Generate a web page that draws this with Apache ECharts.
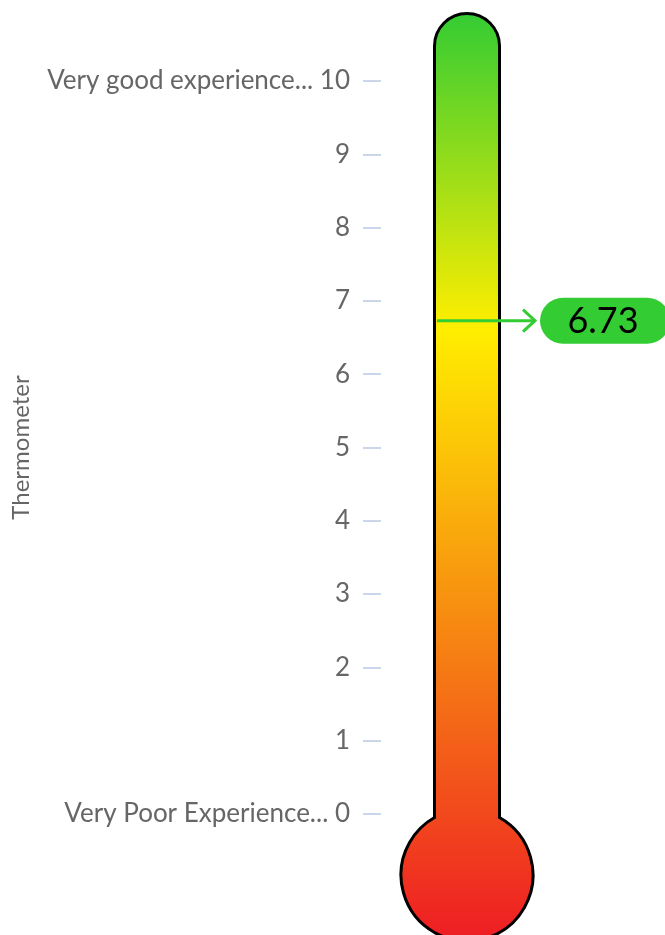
<!DOCTYPE html>
<html>
<head>
<meta charset="utf-8">
<script src="https://cdn.jsdelivr.net/npm/echarts@6/dist/echarts.min.js"></script>
<style>
  html, body { margin: 0; padding: 0; background: #ffffff; }
  #chart { width: 665px; height: 935px; }
</style>
</head>
<body>
<div id="chart"></div>
<script>
// Scale and reading shown on the thermometer
const categories = ['Thermometer'];
const readings = [6.73];
const tickValues = [0, 1, 2, 3, 4, 5, 6, 7, 8, 9, 10];
const tickLabels = ['Very Poor Experience... 0', '1', '2', '3', '4', '5', '6', '7', '8', '9', 'Very good experience... 10'];
const scaleMin = 0;
const scaleMax = 10;

const chart = echarts.init(document.getElementById('chart'));

function renderThermometer(params, api) {
  const value = api.value(1);
  const base = api.coord([api.value(0), scaleMin]);
  const topPt = api.coord([api.value(0), scaleMax]);
  const valPt = api.coord([api.value(0), value]);
  const cx = base[0];

  // tube and bulb outline
  const hw = 32.5;
  const R = 66;
  const topArcY = topPt[1] - 35;
  const bulbCy = base[1] + 61;
  const dy = Math.sqrt(R * R - hw * hw);
  const jy = bulbCy - dy;
  const path =
    'M' + (cx - hw) + ' ' + jy +
    ' L' + (cx - hw) + ' ' + topArcY +
    ' A' + hw + ' ' + hw + ' 0 0 1 ' + (cx + hw) + ' ' + topArcY +
    ' L' + (cx + hw) + ' ' + jy +
    ' A' + R + ' ' + R + ' 0 1 1 ' + (cx - hw) + ' ' + jy + ' Z';

  const yv = valPt[1];
  const lineStart = cx - 30;
  const tipX = cx + 68;
  const pillX = tipX + 5;
  const pillW = 130;
  const pillH = 46;
  const green = '#33cc33';

  return {
    type: 'group',
    children: [
      {
        type: 'path',
        shape: { pathData: path },
        style: {
          fill: new echarts.graphic.LinearGradient(0, 0, 0, 1, [
            { offset: 0, color: '#33cc33' },
            { offset: 0.34, color: '#ffee00' },
            { offset: 1, color: '#ee1c24' }
          ]),
          stroke: '#000000',
          lineWidth: 3
        }
      },
      {
        type: 'line',
        shape: { x1: lineStart, y1: yv, x2: tipX - 1, y2: yv },
        style: { stroke: green, lineWidth: 3 }
      },
      {
        type: 'polyline',
        shape: { points: [[tipX - 12, yv - 11], [tipX, yv], [tipX - 12, yv + 11]] },
        style: { stroke: green, lineWidth: 3, fill: null }
      },
      {
        type: 'rect',
        shape: { x: pillX, y: yv - pillH / 2, width: pillW, height: pillH, r: pillH / 2 },
        style: { fill: green }
      },
      {
        type: 'text',
        x: pillX + pillW / 2 - 2,
        y: yv + 1,
        style: {
          text: String(value),
          fill: '#000000',
          font: '36px Lato',
          align: 'center',
          verticalAlign: 'middle'
        }
      }
    ]
  };
}

chart.setOption({
  animation: false,
  backgroundColor: '#ffffff',
  textStyle: { fontFamily: 'Lato' },
  grid: { left: 381, right: 112, top: 81, bottom: 121, containLabel: false },
  xAxis: {
    type: 'category',
    data: categories,
    show: false
  },
  yAxis: {
    type: 'value',
    min: scaleMin,
    max: scaleMax,
    interval: 1,
    name: 'Thermometer',
    nameLocation: 'middle',
    nameRotate: 90,
    nameGap: 348,
    nameTextStyle: { color: '#666666', fontSize: 24, fontFamily: 'Lato' },
    axisLine: { show: false },
    axisTick: { show: true, length: 18, lineStyle: { color: '#ccd6eb', width: 2 } },
    splitLine: { show: false },
    axisLabel: {
      margin: 31,
      color: '#666666',
      fontSize: 26,
      fontFamily: 'Lato',
      formatter: function (v) {
        const i = tickValues.indexOf(v);
        return i >= 0 ? tickLabels[i] : String(v);
      }
    }
  },
  series: [{
    type: 'custom',
    renderItem: renderThermometer,
    clip: false,
    data: categories.map((c, i) => [i, readings[i]])
  }]
});
</script>
</body>
</html>
